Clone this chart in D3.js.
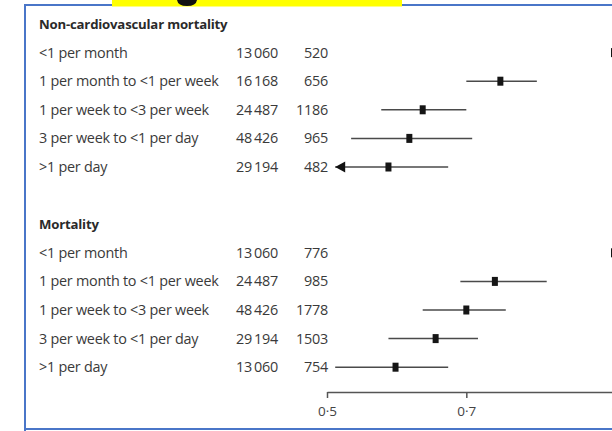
<!DOCTYPE html>
<html><head><meta charset="utf-8">
<script src="https://cdn.jsdelivr.net/npm/d3@7"></script>
<style>
html,body{margin:0;padding:0;background:#fff;}
svg{display:block;}
text{font-family:"Open Sans","Noto Sans",sans-serif;}
</style></head>
<body>
<svg id="chart" width="612" height="431"></svg>
<script>
// ---- data ----
const sectionTitles = ["Non-cardiovascular mortality", "Mortality"];
const categories = ["<1 per month", "1 per month to <1 per week", "1 per week to <3 per week", "3 per week to <1 per day", ">1 per day"];
const nonCvN = [13060, 16168, 24487, 48426, 29194];
const nonCvEvents = [520, 656, 1186, 965, 482];
const nonCvHR = [1, 0.76, 0.63, 0.61, 0.58];
const nonCvLo = [null, 0.70, 0.57, 0.53, 0.49];
const nonCvHi = [null, 0.83, 0.70, 0.71, 0.67];
const mortN = [13060, 24487, 48426, 29194, 13060];
const mortEvents = [776, 985, 1778, 1503, 754];
const mortHR = [1, 0.75, 0.70, 0.65, 0.59];
const mortLo = [null, 0.69, 0.63, 0.58, 0.51];
const mortHi = [null, 0.85, 0.77, 0.72, 0.67];
const tickValues = [0.5, 0.7, 1];
const tickLabels = ["0·5", "0·7", "1"];

// ---- layout ----
const svg = d3.select("#chart");
const W = 612, H = 431;
const clipMin = 0.51;
const FS = 14.4, LS = -0.25;

svg.append("rect").attr("width", W).attr("height", H).attr("fill", "#fff");
const frame = svg.append("g").attr("stroke", "#4a76c8").attr("stroke-width", 2).attr("fill", "none");
frame.append("path").attr("d", `M25,${H+2} L25,5 L${W+2},5`);
frame.append("path").attr("d", `M25,429 L${W+2},429`);
svg.append("rect").attr("x", 112).attr("y", 0).attr("width", 290).attr("height", 6.5).attr("fill", "#ffff00");
// fragment of a cut-off glyph inside the yellow banner
svg.append("path").attr("d", "M177,0 Q178,6 187,6 Q196,6 197,0 Z").attr("fill", "#111");

const y = d3.scaleLinear().domain([0, 12]).range([24, 24 + 12 * 28.6]);
const x = d3.scaleLog().domain([0.5, 1]).range([327, 614]);

const fmt = n => n >= 10000 ? d3.format(",")(n).replace(",", "\u2009") : String(n);

const sections = [
  {title: sectionTitles[0], start: 0, N: nonCvN, ev: nonCvEvents, hr: nonCvHR, lo: nonCvLo, hi: nonCvHi},
  {title: sectionTitles[1], start: 7, N: mortN, ev: mortEvents, hr: mortHR, lo: mortLo, hi: mortHi}
];

sections.forEach(s => {
  svg.append("text").attr("x", 39).attr("y", y(s.start)).attr("dy", "0.35em")
    .attr("font-size", 13.2).attr("letter-spacing", -0.2).attr("font-weight", 700).attr("fill", "#2a2a2a").text(s.title);
  categories.forEach((c, i) => {
    const yy = y(s.start + 1 + i);
    const g = svg.append("g");
    g.append("text").attr("x", 39).attr("y", yy).attr("dy", "0.35em")
      .attr("font-size", FS).attr("letter-spacing", LS).attr("fill", "#3a3a3a").text(c);
    g.append("text").attr("x", 278).attr("y", yy).attr("dy", "0.35em").attr("text-anchor", "end")
      .attr("font-size", FS).attr("letter-spacing", LS).attr("fill", "#3a3a3a").text(fmt(s.N[i]));
    g.append("text").attr("x", 328).attr("y", yy).attr("dy", "0.35em").attr("text-anchor", "end")
      .attr("font-size", FS).attr("letter-spacing", LS).attr("fill", "#3a3a3a").text(fmt(s.ev[i]));
    if (s.lo[i] != null) {
      const lo = Math.max(s.lo[i], clipMin);
      g.append("line").attr("x1", x(lo)).attr("x2", x(s.hi[i])).attr("y1", yy).attr("y2", yy)
        .attr("stroke", "#4a4a4a").attr("stroke-width", 1.5);
      if (s.lo[i] < clipMin) {
        const ax = x(clipMin);
        g.append("path").attr("d", `M${ax},${yy} L${ax+10},${yy-5.5} L${ax+10},${yy+5.5} Z`).attr("fill", "#111");
      }
    }
    g.append("rect").attr("x", x(s.hr[i]) - 3).attr("y", yy - 4.5).attr("width", 6).attr("height", 9)
      .attr("fill", "#151515");
  });
});

// axis
const axisScale = x.copy().domain([0.5, 1.4]).range([x(0.5), x(1.4)]);
const axis = d3.axisBottom(axisScale).tickValues(tickValues)
  .tickFormat((d, i) => tickLabels[i]).tickSize(6).tickSizeOuter(0).tickPadding(8);
const ag = svg.append("g").attr("transform", "translate(0,392)").call(axis);
ag.select(".domain").attr("stroke", "#555").attr("stroke-width", 1.5);
ag.selectAll(".tick line").attr("stroke", "#555").attr("stroke-width", 1.5);
ag.selectAll(".tick text").attr("font-size", 13.5).attr("fill", "#444")
  .attr("font-family", "'Open Sans','Noto Sans',sans-serif");
</script>
</body></html>
